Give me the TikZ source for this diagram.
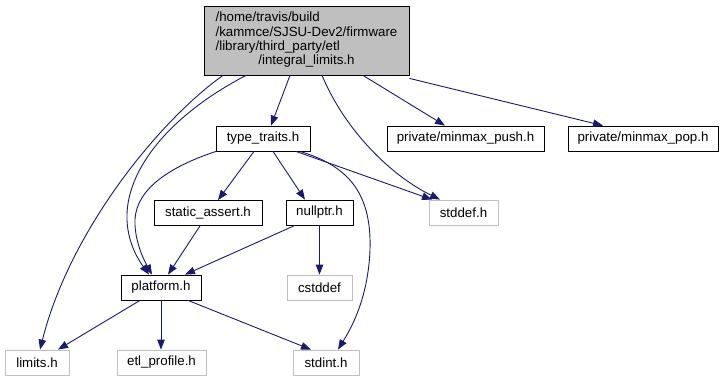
\documentclass[tikz,border=0pt]{standalone}
\usepackage{fontspec}
\setmainfont{Liberation Sans}
\usetikzlibrary{arrows.meta}
\definecolor{edgeblue}{HTML}{191970}
\definecolor{undoc}{HTML}{BFBFBF}
\begin{document}
\begin{tikzpicture}[x=1pt,y=-1pt,
  file/.style={draw=black, line width=0.8pt, inner sep=0pt, minimum height=25pt,
    font=\fontsize{13.3}{14.3}\selectfont, text=black},
  ext/.style={file, draw=undoc},
  dep/.style={draw=edgeblue, line width=0.9pt, -{Triangle[length=10pt,width=7.5pt]}, fill=none}]
\useasboundingbox (0,0) rectangle (724,381);

% the file whose includes are shown
\node[file, fill=undoc, minimum width=205pt, minimum height=69pt] (top) at (306.5,40.5)
  {\renewcommand\arraystretch{1}\fontsize{13.3}{14.3}\selectfont
   \begin{tabular}{@{}l@{}}/home/travis/build\\/kammce/SJSU-Dev2/firmware\\/library/third\_party/etl\\\multicolumn{1}{@{}c@{}}{/integral\_limits.h}\end{tabular}};

% included headers
\node[file, minimum width=94pt]  (tt)   at (263,138.5)   {type\_traits.h};
\node[file, minimum width=157pt] (push) at (465.5,138.5) {private/minmax\_push.h};
\node[file, minimum width=150pt] (pop)  at (643,138.5)   {private/minmax\_pop.h};
\node[file, minimum width=108pt] (sa)   at (208,213)     {static\_assert.h};
\node[file, minimum width=67pt]  (np)   at (319.5,212.5) {nullptr.h};
\node[ext,  minimum width=69pt]  (sd)   at (463.5,212.5) {stddef.h};
\node[file, minimum width=80pt]  (pf)   at (161,287.5)   {platform.h};
\node[ext,  minimum width=65pt]  (cs)   at (319.5,287.5) {cstddef};
\node[ext,  minimum width=64pt]  (lim)  at (37,362.5)    {limits.h};
\node[ext,  minimum width=89pt]  (etl)  at (161.5,362.5) {etl\_profile.h};
\node[ext,  minimum width=66pt]  (si)   at (326,362.5)   {stdint.h};

% includes of integral_limits.h
\draw[dep] ([xshift=-83.5pt]top.south) .. controls (160,120) and (70,230) .. ([xshift=3pt]lim.north);
\draw[dep] ([xshift=-60.5pt]top.south) .. controls (170,115) and (125,170) .. (127,220)
  .. controls (128,245) and (140,262) .. ([xshift=-12pt]pf.north);
\draw[dep] ([xshift=-16.5pt]top.south) -- ([xshift=8pt]tt.north);
\draw[dep] ([xshift=15.5pt]top.south) .. controls (345,130) and (390,175) .. ([xshift=-23.5pt]sd.north);
\draw[dep] ([xshift=56.5pt]top.south) -- ([xshift=-20.5pt]push.north);
\draw[dep] ([yshift=-3pt]top.south east) -- ([xshift=-40pt]pop.north);

% includes of type_traits.h
\draw[dep] ([xshift=-47pt]tt.south) .. controls (160,170) and (133,195) .. (135,225)
  .. controls (136,245) and (145,262) .. ([xshift=-9pt]pf.north);
\draw[dep] ([xshift=-9pt]tt.south) -- ([xshift=10pt]sa.north);
\draw[dep] ([xshift=10pt]tt.south) -- ([xshift=-14.5pt]np.north);
\draw[dep] ([xshift=33pt]tt.south) -- ([xshift=-31.5pt]sd.north);
\draw[dep] ([xshift=37pt]tt.south) .. controls (345,165) and (372,190) .. (370,250)
  .. controls (368,300) and (350,330) .. ([xshift=12pt]si.north);

% includes of static_assert.h and nullptr.h
\draw[dep] ([xshift=-8pt]sa.south) -- ([xshift=7pt]pf.north);
\draw[dep] ([xshift=-24.5pt]np.south) -- ([xshift=24pt]pf.north);
\draw[dep] (np.south) -- (cs.north);

% includes of platform.h
\draw[dep] ([xshift=-21pt]pf.south) -- ([xshift=21pt]lim.north);
\draw[dep] (pf.south) -- (pf.south |- etl.north);
\draw[dep] ([xshift=27pt]pf.south) -- ([xshift=-15pt]si.north);
\end{tikzpicture}
\end{document}
